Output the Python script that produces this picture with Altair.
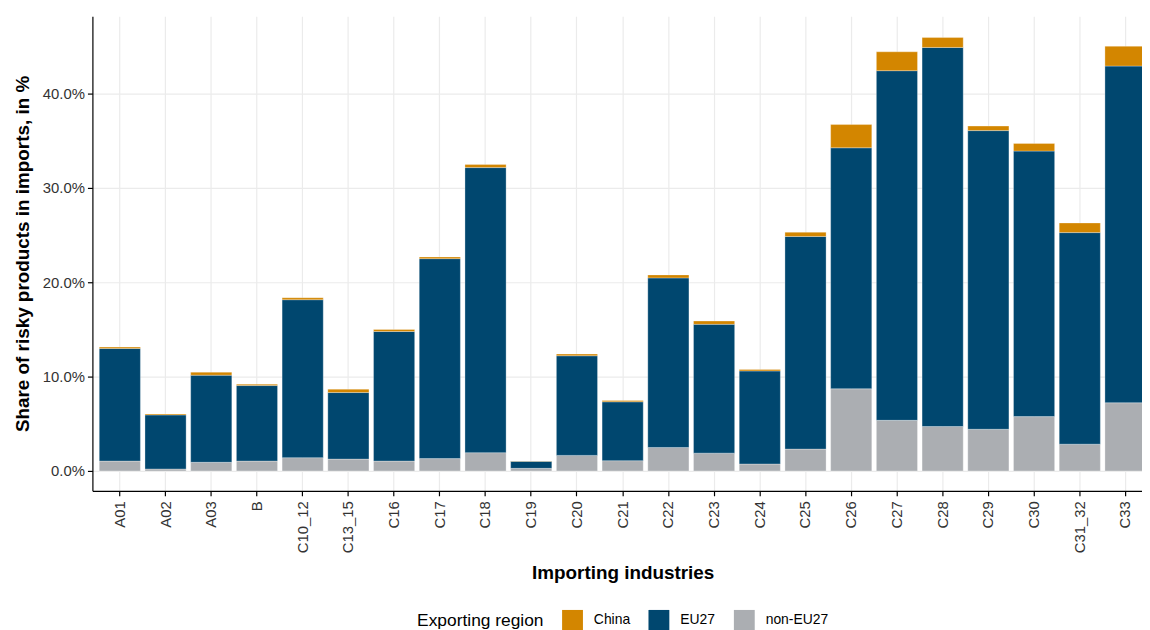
import altair as alt
import pandas as pd

industries = ["A01", "A02", "A03", "B", "C10_12", "C13_15", "C16", "C17", "C18", "C19",
              "C20", "C21", "C22", "C23", "C24", "C25", "C26", "C27", "C28", "C29",
              "C30", "C31_32", "C33"]

# shares in % of imports
non_eu27 = [1.05, 0.21, 0.92, 1.05, 1.41, 1.26, 1.05, 1.31, 1.94, 0.28,
            1.65, 1.09, 2.49, 1.89, 0.74, 2.32, 8.71, 5.37, 4.71, 4.42,
            5.76, 2.84, 7.23]
eu27 = [11.94, 5.73, 9.23, 8.00, 16.74, 7.05, 13.73, 21.19, 30.21, 0.74,
        10.56, 6.24, 17.97, 13.65, 9.86, 22.53, 25.54, 37.05, 40.17, 31.65,
        28.14, 22.42, 35.68]
china = [0.14, 0.10, 0.32, 0.15, 0.21, 0.36, 0.21, 0.18, 0.32, 0.03,
         0.18, 0.14, 0.32, 0.35, 0.14, 0.45, 2.46, 2.00, 1.05, 0.48,
         0.81, 1.02, 2.10]

regions = ["China", "EU27", "non-EU27"]
region_colors = ["#D38600", "#00476F", "#ABAEB2"]
stack_order = {"non-EU27": 0, "EU27": 1, "China": 2}
y_ticks = [0, 10, 20, 30, 40]

rows = []
for name, series in (("non-EU27", non_eu27), ("EU27", eu27), ("China", china)):
    for ind, v in zip(industries, series):
        rows.append({"industry": ind, "region": name, "share": v, "ord": stack_order[name]})
df = pd.DataFrame(rows)

FONT = "Liberation Sans"

chart = alt.Chart(df).mark_bar(stroke="white", strokeWidth=0.3).encode(
    x=alt.X("industry:N", sort=industries,
            scale=alt.Scale(paddingInner=0.1, paddingOuter=0.15, range=[0, 1068]),
            axis=alt.Axis(title="Importing industries", labelAngle=-90,
                          labelAlign="right", labelBaseline="middle",
                          labelFontSize=15, labelColor="#333333", labelPadding=5,
                          titleFontSize=19, titleFontWeight="bold", titleColor="black",
                          titlePadding=11, tickSize=5, tickColor="black",
                          domainColor="black", domainWidth=1.2, tickWidth=1.2,
                          grid=True, gridColor="#EBEBEB", gridWidth=1.2,
                          bandPosition=0.5)),
    y=alt.Y("share:Q", stack="zero",
            scale=alt.Scale(domain=[-2.1, 48.2], nice=False, zero=False),
            axis=alt.Axis(title="Share of risky products in imports, in %",
                          values=y_ticks,
                          labelExpr="format(datum.value, '.1f') + '%'",
                          labelFontSize=15, labelColor="#333333", labelPadding=3,
                          titleFontSize=19, titleFontWeight="bold", titleColor="black",
                          titlePadding=10, tickSize=5, tickColor="black", tickWidth=1.2,
                          domainColor="black", domainWidth=1.2,
                          grid=True, gridColor="#EBEBEB", gridWidth=1.2)),
    color=alt.Color("region:N", sort=regions,
                    scale=alt.Scale(domain=regions, range=region_colors),
                    legend=alt.Legend(title="Exporting region", orient="none",
                                      legendX=327, legendY=598,
                                      direction="horizontal", titleOrient="left",
                                      titleFontSize=17.5, titleFontWeight="normal",
                                      titleColor="black", titlePadding=18,
                                      labelFontSize=14, labelColor="black",
                                      symbolType="square", symbolSize=441,
                                      symbolStrokeWidth=0, labelOffset=11,
                                      columnPadding=18)),
    order=alt.Order("ord:Q", sort="ascending"),
).properties(
    width=1057,
    height=478,
    autosize=alt.AutoSizeParams(type="none"),
    padding={"left": 85, "top": 6, "right": 0, "bottom": 138},
).configure(
    font=FONT,
).configure_view(
    stroke=None,
)

chart.save("out.html", embed_options={"renderer": "svg", "actions": False})
